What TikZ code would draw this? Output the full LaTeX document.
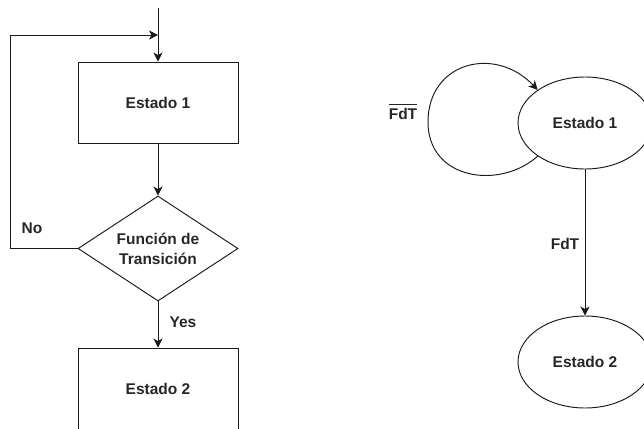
\documentclass[tikz,border=0pt]{standalone}
\usepackage{fontspec}
\setmainfont{Liberation Sans}
\usetikzlibrary{shapes.geometric,arrows.meta}
\definecolor{txt}{HTML}{262626}
\begin{document}
\begin{tikzpicture}[x=1pt,y=-1pt,
  every node/.style={font=\fontsize{15.5}{20}\selectfont\bfseries, text=txt},
  line/.style={line width=0.95pt, draw=black!90},
  arr/.style={line, -{Stealth[length=9pt,width=9pt,inset=2.5pt]}},
  rectbox/.style={line, rectangle, minimum width=160pt, minimum height=81pt, inner sep=0pt},
  decision/.style={line, diamond, aspect=1.52, minimum width=160pt, minimum height=105pt, inner sep=0pt, align=center},
  stateell/.style={line, ellipse, minimum width=134pt, minimum height=92pt, inner sep=0pt},
  lbl/.style={inner sep=0pt}]
\useasboundingbox (0,0) rectangle (644,428);
\clip (0,0) rectangle (644,428);
% left flowchart
\node[rectbox] (r1) at (158,102.5) {Estado 1};
\node[decision] (dia) at (158,248.5) {Función de\\Transición};
\node[rectbox] (r2) at (158,388.5) {Estado 2};
\coordinate (start) at (158,8);
\coordinate (join) at (158,35);
\draw[arr] (start) -- (r1.north);
\draw[arr] (r1.south) -- (dia.north);
\draw[arr] (dia.south) -- (r2.north);
\draw[arr] (dia.west) -- ++(-67,0) |- (join);
\node[lbl] (no) at (32,228) {No};
\node[lbl] (yes) at (183,322) {Yes};
% right state diagram
\node[stateell] (e1) at (585,123) {Estado 1};
\node[stateell] (e2) at (585,362) {Estado 2};
\draw[arr] (e1.south) -- (e2.north);
\draw[arr] (e1.215) .. controls (500,190) and (428,180) .. (428,122)
  .. controls (428,62) and (495,45) .. (e1.145);
\node[lbl] (fdt) at (565,244) {FdT};
\node[lbl] (nfdt) at (403,112) {$\overline{\mbox{\rule{0pt}{14pt}FdT}}$};
\end{tikzpicture}
\end{document}
